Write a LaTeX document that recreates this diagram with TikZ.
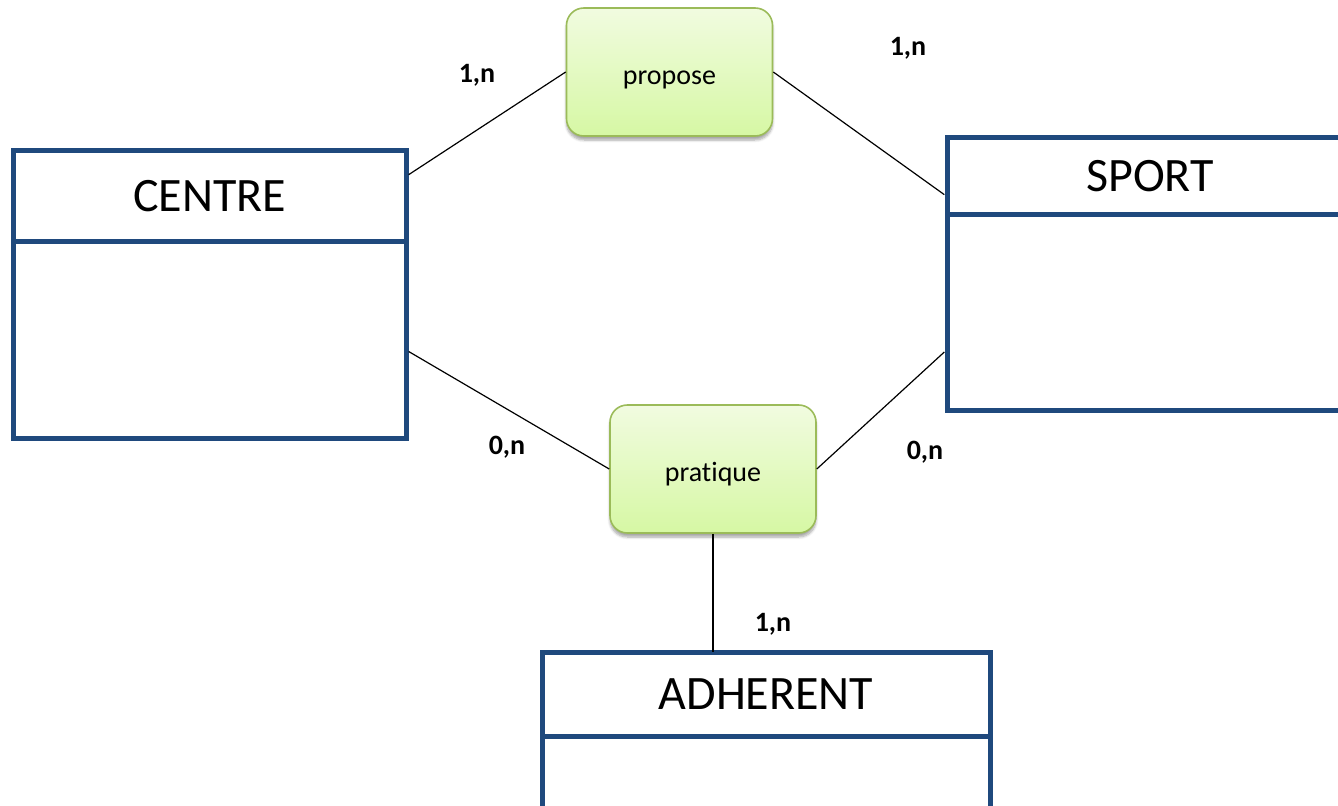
\documentclass[tikz,border=0pt]{standalone}
\usepackage{fontspec}
\setmainfont{Carlito}[Ligatures=CommonOff]
\usepackage{tikz}
\usetikzlibrary{positioning,calc,shadows.blur}

\definecolor{entblue}{RGB}{31,73,125}
\definecolor{reltop}{RGB}{241,251,224}
\definecolor{relbot}{RGB}{214,248,164}
\definecolor{relline}{RGB}{155,187,89}

\begin{document}
\begin{tikzpicture}[x=0.75pt,y=-0.75pt,line width=0.9pt,
	ent/.style={rectangle,draw=entblue,line width=3.75pt,inner sep=0pt,outer sep=0pt,fill=white,font=\fontsize{36}{40}\selectfont},
	rel/.style={rectangle,rounded corners=13pt,draw=relline,line width=1.2pt,top color=reltop,bottom color=relbot,
		minimum width=154.5pt,minimum height=96pt,inner sep=0pt,text height=24pt,text depth=5pt,font=\fontsize{21}{24}\selectfont,
		blur shadow={shadow blur steps=6,shadow xshift=0pt,shadow yshift=-3pt,shadow opacity=35}},
	card/.style={font=\fontsize{21}{24}\selectfont\bfseries}]
	\useasboundingbox (0,0) rectangle (1338,806);

	% entites
	\node[ent,minimum width=294.75pt,minimum height=67.5pt] at (209.5,196) (ctitle) {CENTRE};
	\node[ent,minimum width=294.75pt,minimum height=147.75pt,below=0pt of ctitle] (cbody) {};

	\node[ent,minimum width=304.5pt,minimum height=57pt] at (1150,176) (stitle) {SPORT};
	\node[ent,minimum width=304.5pt,minimum height=147pt,below=0pt of stitle] (sbody) {};

	\node[ent,minimum width=336pt,minimum height=63pt] at (766,694) (atitle) {ADHERENT};
	\node[ent,minimum width=336pt,minimum height=75pt,below=0pt of atitle] (abody) {};

	% associations
	\node[rel] at (669.5,72) (propose) {propose};
	\node[rel] at (713,469) (pratique) {pratique};

	\draw ([shift={(2pt,16pt)}]ctitle.east) -- (propose.west);
	\draw (propose.east) -- ([shift={(-2pt,-14pt)}]stitle.west);
	\draw ([shift={(2pt,-9pt)}]cbody.east) -- (pratique.west);
	\draw (pratique.east) -- ([shift={(-2pt,-30pt)}]sbody.west);
	\draw (pratique.south) -- (pratique.south |- atitle.north);

	% cardinalites
	\node[card] at (477,75) (c1) {1,n};
	\node[card] at (908,48) (c2) {1,n};
	\node[card] at (507,447) (c3) {0,n};
	\node[card] at (925,452) (c4) {0,n};
	\node[card] at (773,624) (c5) {1,n};
\end{tikzpicture}
\end{document}
